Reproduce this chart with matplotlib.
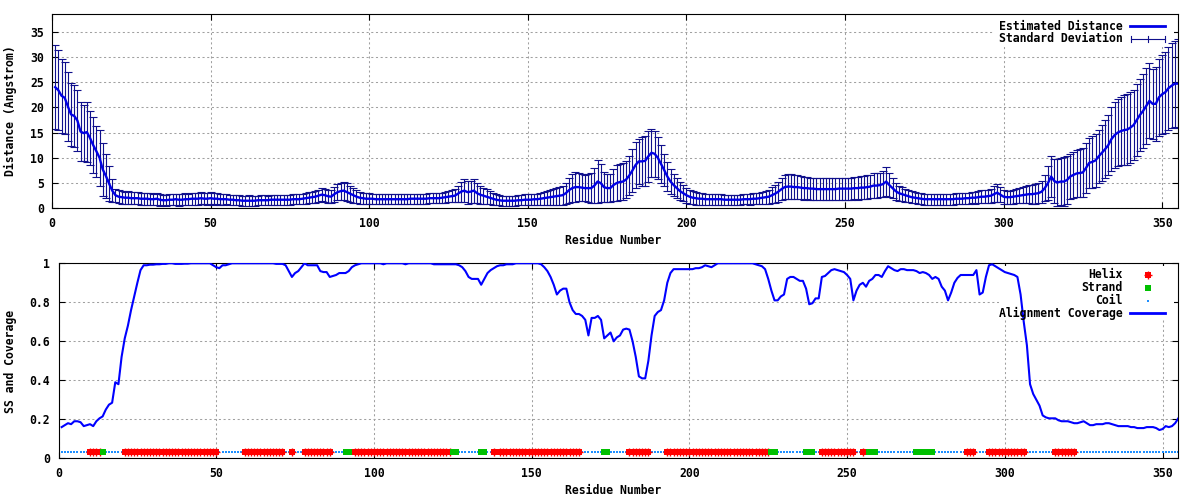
import matplotlib
matplotlib.use('Agg')
import matplotlib.pyplot as plt
from matplotlib.lines import Line2D
from matplotlib.patches import Rectangle

# ---------------- data ----------------
residues = list(range(1, 356))

distance = [
    24.0, 23.4, 22.3, 21.9, 20.2, 18.6, 18.3, 17.4, 15.2, 14.9,
    15.1, 13.9, 12.5, 11.3, 10.0, 7.7, 6.4, 4.9, 3.5, 2.6,
    2.3, 2.2, 2.1, 2.1, 2.0, 2.0, 2.0, 1.9, 1.9, 1.9,
    1.8, 1.8, 1.9, 1.7, 1.6, 1.6, 1.7, 1.7, 1.8, 1.7,
    1.7, 1.8, 1.8, 1.9, 1.9, 1.9, 2.0, 1.9, 1.9, 2.0,
    1.9, 1.9, 1.8, 1.8, 1.8, 1.7, 1.7, 1.6, 1.6, 1.5,
    1.5, 1.5, 1.5, 1.5, 1.6, 1.6, 1.6, 1.6, 1.7, 1.7,
    1.7, 1.7, 1.7, 1.7, 1.7, 1.8, 1.8, 1.8, 1.9, 2.0,
    2.1, 2.2, 2.3, 2.5, 2.7, 2.6, 2.4, 2.3, 2.8, 3.2,
    3.4, 3.5, 3.2, 2.9, 2.6, 2.3, 2.1, 2.0, 1.9, 1.9,
    1.9, 1.8, 1.8, 1.8, 1.8, 1.8, 1.8, 1.8, 1.8, 1.8,
    1.8, 1.8, 1.9, 1.9, 1.9, 1.9, 1.9, 1.9, 2.0, 2.0,
    2.0, 2.0, 2.1, 2.2, 2.3, 2.4, 2.5, 2.9, 3.3, 3.5,
    3.2, 3.3, 3.5, 3.0, 2.7, 2.5, 2.3, 2.1, 1.9, 1.7,
    1.6, 1.5, 1.5, 1.5, 1.5, 1.5, 1.6, 1.6, 1.7, 1.7,
    1.7, 1.8, 1.8, 1.9, 2.0, 2.1, 2.2, 2.3, 2.4, 2.5,
    2.6, 3.0, 3.6, 4.0, 4.2, 4.2, 4.1, 4.0, 4.0, 4.0,
    4.5, 5.3, 5.0, 4.2, 4.0, 4.0, 4.6, 5.0, 5.2, 5.3,
    5.7, 6.5, 7.5, 8.6, 9.3, 9.3, 9.4, 10.3, 11.0, 10.8,
    10.0, 8.8, 7.6, 6.3, 5.3, 4.6, 4.0, 3.4, 3.0, 2.6,
    2.3, 2.1, 2.0, 1.9, 1.9, 1.8, 1.8, 1.8, 1.8, 1.8,
    1.8, 1.7, 1.7, 1.7, 1.7, 1.7, 1.7, 1.8, 1.8, 1.8,
    1.9, 1.9, 2.0, 2.1, 2.2, 2.3, 2.6, 2.9, 3.3, 3.8,
    4.2, 4.3, 4.3, 4.2, 4.2, 4.1, 4.0, 4.0, 3.9, 3.9,
    3.8, 3.8, 3.8, 3.8, 3.8, 3.8, 3.8, 3.9, 3.9, 3.9,
    3.9, 3.9, 4.0, 4.0, 4.1, 4.1, 4.2, 4.3, 4.5, 4.5,
    4.6, 4.8, 5.3, 4.6, 4.0, 3.4, 3.0, 2.8, 2.6, 2.4,
    2.2, 2.1, 2.0, 1.9, 1.8, 1.8, 1.8, 1.8, 1.8, 1.8,
    1.8, 1.8, 1.8, 1.8, 1.9, 1.9, 1.9, 2.0, 2.0, 2.1,
    2.1, 2.2, 2.3, 2.3, 2.4, 2.5, 2.8, 3.1, 2.7, 2.3,
    2.2, 2.2, 2.3, 2.4, 2.5, 2.6, 2.7, 2.8, 2.8, 2.9,
    3.0, 3.3, 4.0, 5.0, 6.3, 5.4, 5.1, 5.3, 5.3, 5.6,
    6.3, 6.6, 6.9, 7.0, 7.1, 8.0, 9.0, 9.2, 9.5, 10.3,
    11.0, 11.7, 12.5, 13.7, 14.5, 15.0, 15.3, 15.5, 15.6, 16.0,
    16.5, 17.5, 18.5, 19.3, 20.3, 21.3, 20.7, 20.7, 22.0, 22.6,
    23.0, 23.8, 24.3, 24.7, 24.7,
]

std_dev = [
    8.3, 7.9, 7.3, 7.1, 6.9, 6.3, 6.2, 6.1, 5.8, 5.6,
    5.9, 5.4, 5.5, 5.0, 5.5, 5.3, 4.4, 3.4, 2.3, 1.3,
    1.3, 1.3, 1.2, 1.3, 1.2, 1.2, 1.2, 1.2, 1.2, 1.2,
    1.2, 1.1, 1.2, 1.2, 1.0, 1.1, 1.1, 1.1, 1.1, 1.2,
    1.1, 1.2, 1.1, 1.2, 1.2, 1.2, 1.2, 1.1, 1.2, 1.2,
    1.2, 1.1, 1.1, 1.1, 1.0, 1.0, 1.0, 1.0, 1.0, 1.0,
    1.0, 1.1, 1.0, 1.0, 0.9, 1.0, 1.0, 0.9, 1.0, 1.0,
    1.0, 1.0, 1.0, 1.0, 1.0, 1.0, 1.0, 1.0, 1.0, 1.1,
    1.1, 1.1, 1.2, 1.2, 1.3, 1.3, 1.3, 1.3, 1.5, 1.6,
    1.7, 1.8, 1.8, 1.6, 1.5, 1.3, 1.2, 1.1, 1.1, 1.1,
    1.0, 1.0, 1.0, 1.0, 1.0, 1.0, 1.0, 1.0, 1.0, 1.0,
    1.0, 1.0, 1.0, 1.0, 1.0, 1.0, 1.0, 1.0, 1.0, 1.0,
    1.0, 1.0, 1.0, 1.1, 1.1, 1.2, 1.3, 1.6, 2.0, 2.3,
    2.3, 2.2, 2.4, 2.0, 1.8, 1.6, 1.5, 1.3, 1.2, 1.1,
    1.0, 1.0, 1.0, 1.0, 1.0, 1.0, 1.0, 1.0, 1.1, 1.1,
    1.1, 1.1, 1.1, 1.2, 1.3, 1.4, 1.5, 1.6, 1.7, 1.8,
    1.9, 2.1, 2.5, 2.7, 2.9, 2.7, 2.6, 2.5, 2.8, 3.0,
    3.5, 4.2, 3.8, 3.0, 2.8, 2.8, 3.2, 3.5, 3.6, 3.7,
    3.6, 3.8, 4.2, 4.5, 4.5, 4.8, 5.0, 5.0, 4.8, 4.5,
    4.2, 3.8, 3.2, 2.8, 2.4, 2.2, 2.0, 1.8, 1.6, 1.5,
    1.4, 1.3, 1.3, 1.2, 1.2, 1.1, 1.1, 1.1, 1.1, 1.1,
    1.1, 1.0, 1.0, 1.0, 1.0, 1.0, 1.0, 1.0, 1.0, 1.1,
    1.1, 1.1, 1.1, 1.2, 1.3, 1.4, 1.6, 1.8, 2.0, 2.2,
    2.3, 2.4, 2.4, 2.3, 2.3, 2.3, 2.3, 2.2, 2.2, 2.2,
    2.2, 2.2, 2.2, 2.2, 2.2, 2.2, 2.2, 2.2, 2.2, 2.2,
    2.2, 2.2, 2.2, 2.3, 2.3, 2.3, 2.3, 2.3, 2.4, 2.4,
    2.4, 2.5, 2.8, 2.4, 2.0, 1.7, 1.5, 1.4, 1.3, 1.2,
    1.2, 1.1, 1.1, 1.1, 1.1, 1.1, 1.1, 1.1, 1.1, 1.1,
    1.1, 1.1, 1.1, 1.1, 1.1, 1.1, 1.1, 1.1, 1.1, 1.1,
    1.2, 1.2, 1.3, 1.3, 1.3, 1.4, 1.6, 1.8, 1.5, 1.4,
    1.3, 1.3, 1.4, 1.4, 1.5, 1.6, 1.7, 1.8, 1.9, 2.0,
    2.0, 2.2, 2.6, 3.3, 4.0, 4.4, 4.6, 4.7, 4.8, 4.8,
    4.5, 4.6, 4.7, 4.8, 4.9, 5.0, 5.0, 5.1, 5.2, 5.3,
    5.5, 5.7, 5.9, 6.3, 6.5, 6.7, 6.8, 6.9, 7.0, 7.0,
    7.0, 7.2, 7.2, 7.3, 7.5, 7.4, 7.0, 7.3, 7.6, 7.8,
    8.0, 8.2, 8.4, 8.5, 8.8,
]

coverage = [
    0.16, 0.17, 0.18, 0.175, 0.19, 0.19, 0.185, 0.165, 0.17, 0.175,
    0.165, 0.19, 0.205, 0.215, 0.25, 0.275, 0.285, 0.39, 0.38, 0.52,
    0.615, 0.68, 0.76, 0.83, 0.90, 0.965, 0.99, 0.99, 0.993, 0.993,
    0.995, 0.995, 0.997, 0.997, 1.0, 1.0, 0.997, 0.997, 0.997, 0.998,
    0.998, 1.0, 1.0, 1.0, 1.0, 1.0, 1.0, 1.0, 0.99, 0.98,
    0.975, 0.99, 0.99, 0.995, 1.0, 1.0, 1.0, 1.0, 1.0, 1.0,
    1.0, 1.0, 1.0, 1.0, 1.0, 1.0, 1.0, 1.0, 0.997, 0.997,
    0.997, 0.99, 0.96, 0.93, 0.95, 0.96, 0.98, 1.0, 0.99, 0.99,
    0.99, 0.99, 0.96, 0.955, 0.955, 0.93, 0.935, 0.94, 0.95, 0.95,
    0.95, 0.96, 0.98, 0.99, 0.995, 1.0, 1.0, 1.0, 1.0, 1.0,
    1.0, 1.0, 0.995, 1.0, 1.0, 1.0, 1.0, 1.0, 1.0, 0.995,
    1.0, 1.0, 1.0, 1.0, 1.0, 1.0, 1.0, 1.0, 0.995, 0.995,
    0.995, 0.995, 0.995, 0.995, 0.995, 0.995, 0.99, 0.98, 0.96, 0.93,
    0.92, 0.92, 0.92, 0.89, 0.92, 0.95, 0.965, 0.975, 0.985, 0.99,
    0.99, 0.995, 0.995, 0.995, 1.0, 1.0, 1.0, 1.0, 1.0, 1.0,
    1.0, 1.0, 0.995, 0.98, 0.96, 0.93, 0.89, 0.84, 0.86, 0.87,
    0.87, 0.80, 0.76, 0.74, 0.74, 0.73, 0.71, 0.63, 0.72, 0.72,
    0.73, 0.71, 0.615, 0.63, 0.645, 0.60, 0.62, 0.63, 0.66, 0.665,
    0.66, 0.60, 0.52, 0.42, 0.41, 0.41, 0.50, 0.63, 0.73, 0.75,
    0.76, 0.81, 0.90, 0.95, 0.97, 0.97, 0.97, 0.97, 0.97, 0.97,
    0.97, 0.975, 0.975, 0.98, 0.99, 0.985, 0.98, 0.99, 1.0, 1.0,
    1.0, 1.0, 1.0, 1.0, 1.0, 1.0, 1.0, 1.0, 1.0, 1.0,
    0.995, 0.99, 0.985, 0.97, 0.92, 0.86, 0.81, 0.81, 0.83, 0.84,
    0.92, 0.93, 0.93, 0.92, 0.91, 0.91, 0.87, 0.79, 0.795, 0.82,
    0.82, 0.93, 0.935, 0.95, 0.965, 0.97, 0.965, 0.96, 0.955, 0.94,
    0.92, 0.81, 0.86, 0.89, 0.90, 0.88, 0.91, 0.92, 0.94, 0.94,
    0.93, 0.96, 0.985, 0.975, 0.965, 0.96, 0.97, 0.97, 0.965, 0.965,
    0.965, 0.96, 0.95, 0.955, 0.95, 0.94, 0.92, 0.93, 0.92, 0.88,
    0.86, 0.81, 0.85, 0.90, 0.925, 0.94, 0.94, 0.94, 0.94, 0.94,
    0.965, 0.84, 0.85, 0.93, 0.99, 0.995, 0.985, 0.975, 0.965, 0.955,
    0.95, 0.945, 0.94, 0.93, 0.84, 0.70, 0.58, 0.38, 0.33, 0.30,
    0.27, 0.22, 0.21, 0.205, 0.205, 0.205, 0.195, 0.19, 0.19, 0.19,
    0.185, 0.18, 0.18, 0.185, 0.19, 0.18, 0.17, 0.17, 0.175, 0.175,
    0.175, 0.18, 0.18, 0.175, 0.17, 0.165, 0.165, 0.165, 0.165, 0.16,
    0.16, 0.155, 0.155, 0.155, 0.16, 0.16, 0.16, 0.155, 0.145, 0.15,
    0.165, 0.16, 0.165, 0.18, 0.205,
]

helix_ranges = [(10, 13), (21, 50), (59, 71), (74, 74), (78, 86), (94, 124),
                (138, 138), (140, 165), (181, 187), (193, 225), (242, 252),
                (255, 255), (288, 290), (295, 306), (316, 322)]
strand_ranges = [(14, 14), (91, 92), (125, 126), (134, 135), (173, 174),
                 (226, 227), (237, 239), (257, 259), (272, 277)]
ss_level = 0.03

x_ticks = [0, 50, 100, 150, 200, 250, 300, 350]
dist_yticks = [0, 5, 10, 15, 20, 25, 30, 35]
cov_yticks = [0, 0.2, 0.4, 0.6, 0.8, 1.0]
cov_ytick_labels = ['0', '0.2', '0.4', '0.6', '0.8', '1']

# ---------------- style ----------------
plt.rcParams['font.family'] = ['DejaVu Sans Mono']
plt.rcParams['font.weight'] = 'bold'
plt.rcParams['font.size'] = 8.3

W, H = 1200, 500
fig = plt.figure(figsize=(12, 5), dpi=100)
fig.patch.set_facecolor('white')


def fx(px):
    return px / W


def fy(py):
    return 1 - py / H


GRID = dict(color='#a0a0a0', linestyle=(0, (2, 2.5)), linewidth=0.75)
COIL_COLOR = '#1e8fff'

ax1 = fig.add_axes([fx(52), fy(208.3), (1178 - 52) / W, (208.3 - 14) / H])
ax2 = fig.add_axes([fx(58.5), fy(458.3), (1178.3 - 58.5) / W, (458.3 - 263.3) / H])

for ax in (ax1, ax2):
    ax.set_axisbelow(True)
    ax.grid(True, **GRID)
    ax.tick_params(direction='in', top=True, right=True, length=4.6, width=0.8,
                   labelsize=8.3, pad=6)
    for sp in ax.spines.values():
        sp.set_linewidth(0.8)
    ax.set_xlim(0, 355)
    ax.set_xticks(x_ticks)
    ax.set_xticklabels([str(t) for t in x_ticks])

# ---------------- top panel ----------------
ax1.errorbar(residues, distance, yerr=std_dev, fmt='none', ecolor='#10108c',
             elinewidth=0.8, capsize=2.8, capthick=0.8, zorder=2)
ax1.plot(residues, distance, color='#0000e6', lw=1.7, zorder=3)
ax1.set_ylim(0, 38.5)
ax1.set_yticks(dist_yticks)
ax1.set_yticklabels([str(t) for t in dist_yticks])

# ---------------- bottom panel ----------------
helix = [r for a, b in helix_ranges for r in range(a, b + 1)]
strand = [r for a, b in strand_ranges for r in range(a, b + 1)]
coil = [r for r in residues if r not in helix and r not in strand]

ax2.plot(coil, [ss_level] * len(coil), linestyle='none', marker='s', ms=1.5,
         mew=0, color=COIL_COLOR, zorder=2)
ax2.plot(helix, [ss_level] * len(helix), linestyle='none', marker='s', ms=4.0,
         mew=0, color='#ff0000', zorder=2)
ax2.plot(helix, [ss_level] * len(helix), linestyle='none', marker='+', ms=5.5,
         mew=1.0, color='#ff0000', zorder=2)
ax2.plot(strand, [ss_level] * len(strand), linestyle='none', marker='s', ms=5.0,
         mew=0, color='#00c000', zorder=2.1)
ax2.plot(residues, coverage, color='#0000ff', lw=1.5, zorder=3)
ax2.set_ylim(0, 1)
ax2.set_yticks(cov_yticks)
ax2.set_yticklabels(cov_ytick_labels)

# ---------------- axis labels ----------------
fig.text(fx(10.5), fy(111), 'Distance (Angstrom)', rotation=90,
         ha='center', va='center')
fig.text(fx(613), fy(240.5), 'Residue Number', ha='center', va='center')
fig.text(fx(10.5), fy(361), 'SS and Coverage', rotation=90,
         ha='center', va='center')
fig.text(fx(613), fy(490.5), 'Residue Number', ha='center', va='center')

# ---------------- keys ----------------
TF = fig.transFigure
ax1.add_patch(Rectangle((fx(993), fy(45)), (1174 - 993) / W, (45 - 15) / H,
                        transform=TF, facecolor='white', edgecolor='none',
                        zorder=1, clip_on=False))
ax1.text(fx(1123), fy(26), 'Estimated Distance', transform=TF, ha='right',
         va='center', zorder=5)
ax1.text(fx(1123), fy(39), 'Standard Deviation', transform=TF, ha='right',
         va='center', zorder=5)
ax1.add_line(Line2D([fx(1130), fx(1165)], [fy(25.5), fy(25.5)], transform=TF,
                    color='#0000e6', lw=2.0, clip_on=False, zorder=5))
ax1.add_line(Line2D([fx(1131), fx(1165)], [fy(38.5), fy(38.5)], transform=TF,
                    color='#10108c', lw=0.8, clip_on=False, zorder=5))
for xp in (1131, 1148, 1165):
    ax1.add_line(Line2D([fx(xp), fx(xp)], [fy(35.5), fy(41.5)], transform=TF,
                        color='#10108c', lw=0.8, clip_on=False, zorder=5))

ax2.add_patch(Rectangle((fx(999), fy(320)), (1174 - 999) / W, (320 - 266) / H,
                        transform=TF, facecolor='white', edgecolor='none',
                        zorder=1, clip_on=False))
key_rows = [('Helix', 275.0), ('Strand', 287.8), ('Coil', 300.6),
            ('Alignment Coverage', 313.4)]
for label, yp in key_rows:
    ax2.text(fx(1123), fy(yp), label, transform=TF, ha='right', va='center',
             zorder=5)
ax2.add_line(Line2D([fx(1147.5)], [fy(275)], transform=TF, linestyle='none',
                    marker='s', ms=4.0, mew=0, color='#ff0000', clip_on=False, zorder=5))
ax2.add_line(Line2D([fx(1147.5)], [fy(275)], transform=TF, linestyle='none',
                    marker='+', ms=5.5, mew=1.0, color='#ff0000', clip_on=False, zorder=5))
ax2.add_line(Line2D([fx(1147.5)], [fy(287.8)], transform=TF, linestyle='none',
                    marker='s', ms=5.0, mew=0, color='#00c000', clip_on=False, zorder=5))
ax2.add_line(Line2D([fx(1147.5)], [fy(300.6)], transform=TF, linestyle='none',
                    marker='s', ms=1.5, mew=0, color=COIL_COLOR, clip_on=False, zorder=5))
ax2.add_line(Line2D([fx(1130), fx(1165)], [fy(313.4), fy(313.4)], transform=TF,
                    color='#0000ff', lw=2.0, clip_on=False, zorder=5))

fig.savefig('out.png', dpi=100, facecolor='white')
